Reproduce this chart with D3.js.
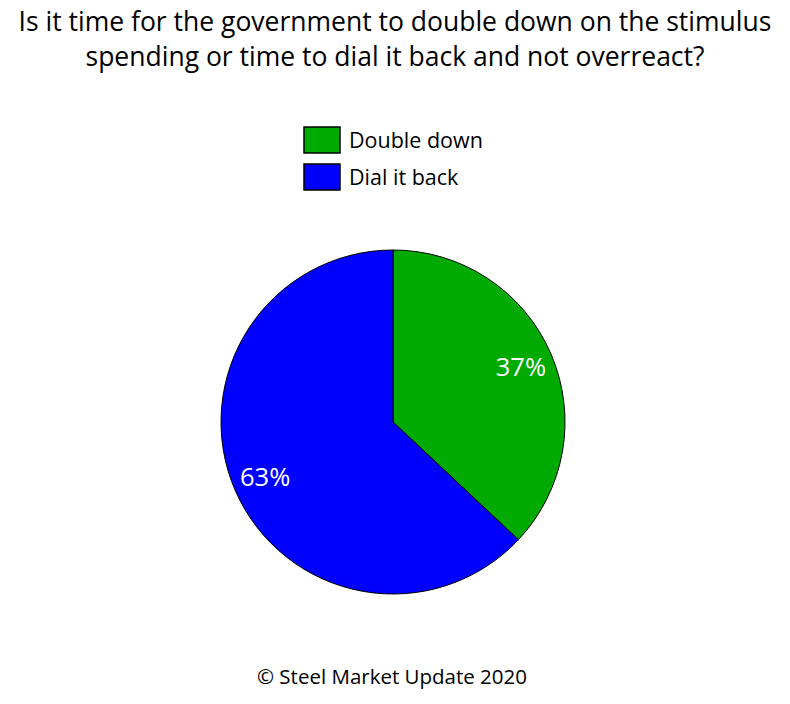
<!DOCTYPE html>
<html>
<head>
<meta charset="utf-8">
<script src="https://cdn.jsdelivr.net/npm/d3@7"></script>
<style>
  body { margin: 0; background: #fff; }
  text { font-family: "Open Sans", sans-serif; }
</style>
</head>
<body>
<div id="chart"></div>
<script>
// values
const categories = ["Double down", "Dial it back"];
const shares = [37, 63];
const colors = ["#00aa00", "#0000ff"];
const titleLines = [
  "Is it time for the government to double down on the stimulus",
  "spending or time to dial it back and not overreact?"
];
const footer = "\u00a9 Steel Market Update 2020";

const width = 790;
const height = 704;
const cx = 393, cy = 422, radius = 172;

const svg = d3.select("#chart")
  .append("svg")
  .attr("width", width)
  .attr("height", height);

svg.append("g")
  .selectAll("text")
  .data(titleLines)
  .join("text")
  .attr("x", 395)
  .attr("y", (d, i) => 31 + i * 35)
  .attr("text-anchor", "middle")
  .attr("font-size", 26.5)
  .attr("fill", "#000")
  .text(d => d);

// legend
const legend = svg.append("g")
  .attr("transform", "translate(304,127)");

const rows = legend.selectAll("g")
  .data(categories)
  .join("g")
  .attr("transform", (d, i) => `translate(0,${i * 37})`);

rows.append("rect")
  .attr("width", 36)
  .attr("height", 26)
  .attr("fill", (d, i) => colors[i])
  .attr("stroke", "#000")
  .attr("stroke-width", 1.5);

rows.append("text")
  .attr("x", 45)
  .attr("y", 21)
  .attr("font-size", 21.5)
  .text(d => d);

// pie
const pie = d3.pie().sort(null).value(d => d)(shares);
const arc = d3.arc().innerRadius(0).outerRadius(radius);
const labelArc = d3.arc().innerRadius(radius * 0.81).outerRadius(radius * 0.81);

const g = svg.append("g")
  .attr("transform", `translate(${cx},${cy})`);

g.selectAll("path")
  .data(pie)
  .join("path")
  .attr("d", arc)
  .attr("fill", (d, i) => colors[i])
  .attr("stroke", "#000")
  .attr("stroke-width", 1);

g.selectAll("text")
  .data(pie)
  .join("text")
  .attr("transform", d => `translate(${labelArc.centroid(d)})`)
  .attr("text-anchor", "middle")
  .attr("dy", "0.35em")
  .attr("font-size", 25.5)
  .attr("fill", "#fff")
  .text(d => d.data + "%");

svg.append("text")
  .attr("x", 392)
  .attr("y", 684)
  .attr("text-anchor", "middle")
  .attr("font-size", 20.5)
  .text(footer);
</script>
</body>
</html>
